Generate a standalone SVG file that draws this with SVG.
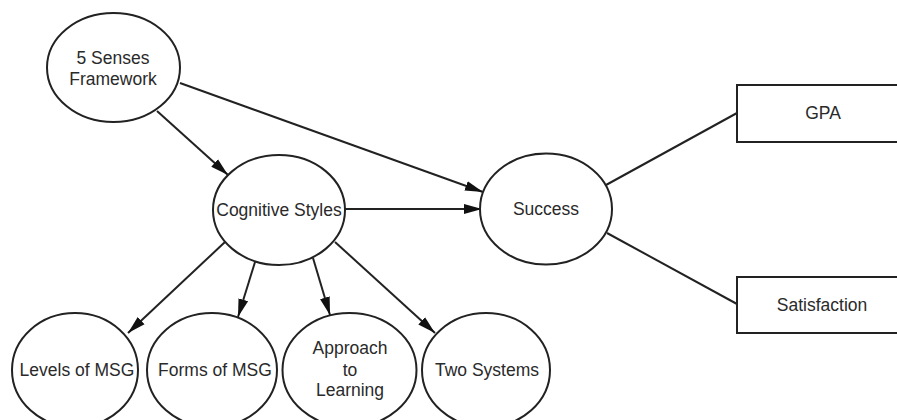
<svg xmlns="http://www.w3.org/2000/svg" width="897" height="420" viewBox="0 0 897 420">
<style>
.n{fill:#fff;stroke:#222;stroke-width:2}
.t{font-family:"Liberation Sans",Arial,sans-serif;font-size:17.5px;fill:#2a2a2a;text-anchor:middle}
.c{fill:none;stroke:#222;stroke-width:2}
</style>
<defs>
<marker id="ah" markerUnits="userSpaceOnUse" markerWidth="20" markerHeight="12" refX="18" refY="6" orient="auto">
<path d="M0,1 L18,6 L0,11 z" fill="#111"/>
</marker>
</defs>
<rect width="897" height="420" fill="#fff"/>
<g id="connectors">
<line class="c" x1="180" y1="83" x2="483" y2="192" marker-end="url(#ah)"/>
<line class="c" x1="157" y1="111" x2="228" y2="175" marker-end="url(#ah)"/>
<line class="c" x1="345" y1="209" x2="482" y2="209" marker-end="url(#ah)"/>
<line class="c" x1="225" y1="242" x2="128" y2="333" marker-end="url(#ah)"/>
<line class="c" x1="255" y1="262" x2="238" y2="317" marker-end="url(#ah)"/>
<line class="c" x1="313" y1="258" x2="330" y2="315" marker-end="url(#ah)"/>
<line class="c" x1="335" y1="242" x2="435" y2="333" marker-end="url(#ah)"/>
<line class="c" x1="606" y1="185" x2="737" y2="113"/>
<line class="c" x1="607" y1="233" x2="737" y2="304"/>
</g>
<g id="senses">
<ellipse class="n" cx="113.5" cy="67.5" rx="66.5" ry="54.5"/>
<text class="t" x="113" y="64">5 Senses</text>
<text class="t" x="113" y="85">Framework</text>
</g>
<g id="cognitive">
<ellipse class="n" cx="279" cy="210" rx="66" ry="55"/>
<text class="t" x="279" y="216">Cognitive Styles</text>
</g>
<g id="success">
<ellipse class="n" cx="546" cy="209" rx="66" ry="55.5"/>
<text class="t" x="546" y="215">Success</text>
</g>
<g id="gpa">
<rect class="n" x="737" y="85" width="180" height="57"/>
<text class="t" x="823" y="119">GPA</text>
</g>
<g id="satisfaction">
<rect class="n" x="737" y="277" width="180" height="56"/>
<text class="t" x="822" y="311">Satisfaction</text>
</g>
<g id="levels">
<ellipse class="n" cx="75" cy="370" rx="63" ry="57"/>
<text class="t" x="77" y="376">Levels of MSG</text>
</g>
<g id="forms">
<ellipse class="n" cx="212" cy="370" rx="65" ry="57"/>
<text class="t" x="215" y="376">Forms of MSG</text>
</g>
<g id="approach">
<ellipse class="n" cx="349.5" cy="370" rx="67" ry="57"/>
<text class="t" x="350" y="354">Approach</text>
<text class="t" x="350" y="376">to</text>
<text class="t" x="350" y="396">Learning</text>
</g>
<g id="two">
<ellipse class="n" cx="486" cy="370" rx="64" ry="57"/>
<text class="t" x="487" y="376">Two Systems</text>
</g>
</svg>
